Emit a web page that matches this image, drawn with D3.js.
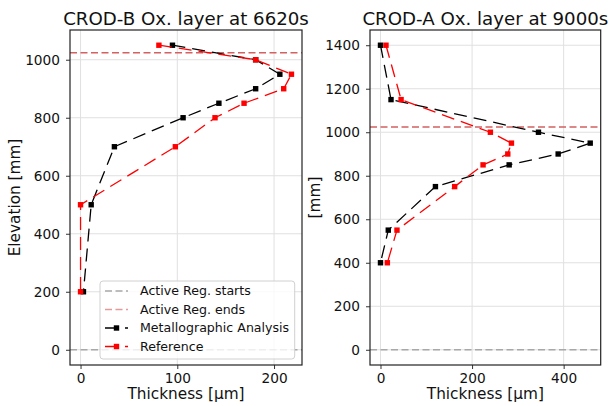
<!DOCTYPE html>
<html>
<head>
<meta charset="utf-8">
<script src="https://cdn.jsdelivr.net/npm/d3@7"></script>
<style>
  body { margin: 0; background: #fff; }
  svg { display: block; font-family: "DejaVu Sans", sans-serif; }
</style>
</head>
<body>
<script>
// elevations [mm] and oxide thickness [um]
const elevB = [1050, 1000, 950, 900, 850, 800, 700, 500, 200];
const metalB = [95, 181, 206, 181, 143, 106, 35, 11, 3];
const refB = [81, 181, 218, 210, 169, 139, 98, 0, 0];

const elevA = [1400, 1150, 1000, 950, 900, 850, 750, 550, 400];
const metalA = [0, 23, 345, 458, 388, 281, 120, 17, 0];
const refA = [12, 45, 240, 286, 278, 224, 162, 36, 15];

const activeStart = 0;
const activeEnd = 1024;

const xTicksB = [0, 100, 200];
const yTicksB = [0, 200, 400, 600, 800, 1000];
const xTicksA = [0, 200, 400];
const yTicksA = [0, 200, 400, 600, 800, 1000, 1200, 1400];

const width = 609, height = 406;
const dataDash = "13,7";
const hDash = "7,3.5";

const svg = d3.select("body").append("svg")
    .attr("width", width)
    .attr("height", height);

// matplotlib-like 5% autoscale padding
function padded(lo, hi) {
  const m = (hi - lo) * 0.05;
  return [lo - m, hi + m];
}

function panel(opt) {
  const x = d3.scaleLinear()
      .domain(padded(0, d3.max(opt.metal.concat(opt.ref))))
      .range([opt.left, opt.right]);
  const y = d3.scaleLinear()
      .domain(padded(Math.min(activeStart, d3.min(opt.elev)), d3.max(opt.elev)))
      .range([365, 30]);

  const g = svg.append("g");

  // grid
  g.append("g").selectAll("line")
    .data(opt.xTicks)
    .join("line")
      .attr("x1", d => x(d)).attr("x2", d => x(d))
      .attr("y1", 30).attr("y2", 365)
      .attr("stroke", "#e0e0e0").attr("stroke-width", 1);
  g.append("g").selectAll("line")
    .data(opt.yTicks)
    .join("line")
      .attr("y1", d => y(d)).attr("y2", d => y(d))
      .attr("x1", opt.left).attr("x2", opt.right)
      .attr("stroke", "#e0e0e0").attr("stroke-width", 1);

  // active region lines
  g.append("line")
      .attr("x1", opt.left).attr("x2", opt.right)
      .attr("y1", y(activeStart)).attr("y2", y(activeStart))
      .attr("stroke", "#a8a8a8").attr("stroke-width", 1.5)
      .attr("stroke-dasharray", hDash);
  g.append("line")
      .attr("x1", opt.left).attr("x2", opt.right)
      .attr("y1", y(activeEnd)).attr("y2", y(activeEnd))
      .attr("stroke", "#d46060").attr("stroke-width", 1.5)
      .attr("stroke-dasharray", hDash);

  const series = [
    {vals: opt.metal, color: "#000"},
    {vals: opt.ref, color: "#ff0000"}
  ];
  const line = d3.line().x(d => x(d[0])).y(d => y(d[1]));
  for (const s of series) {
    const pts = s.vals.map((v, i) => [v, opt.elev[i]]);
    g.append("path")
        .attr("d", line(pts))
        .attr("fill", "none")
        .attr("stroke", s.color)
        .attr("stroke-width", 1.3)
        .attr("stroke-dasharray", dataDash);
    g.append("g").selectAll("rect")
      .data(pts)
      .join("rect")
        .attr("x", d => x(d[0]) - 2.7)
        .attr("y", d => y(d[1]) - 2.7)
        .attr("width", 5.4).attr("height", 5.4)
        .attr("fill", s.color);
  }

  // axes
  const ax = g.append("g")
      .attr("transform", "translate(0,365)")
      .call(d3.axisBottom(x).tickValues(opt.xTicks).tickFormat(d3.format("d"))
        .tickSize(4).tickPadding(4));
  const ay = g.append("g")
      .attr("transform", `translate(${opt.left},0)`)
      .call(d3.axisLeft(y).tickValues(opt.yTicks).tickFormat(d3.format("d"))
        .tickSize(4).tickPadding(6));
  for (const a of [ax, ay]) {
    a.select(".domain").remove();
    a.selectAll(".tick line").attr("stroke", "#333");
    a.selectAll(".tick text")
        .attr("font-family", "DejaVu Sans")
        .attr("font-size", 13.7)
        .attr("fill", "#111");
  }

  g.append("rect")
      .attr("x", opt.left).attr("y", 30)
      .attr("width", opt.right - opt.left).attr("height", 335)
      .attr("fill", "none").attr("stroke", "#222").attr("stroke-width", 1.2);

  g.append("text")
      .attr("x", (opt.left + opt.right) / 2).attr("y", 25)
      .attr("text-anchor", "middle")
      .attr("font-size", 18.2).attr("fill", "#111")
      .text(opt.title);
  g.append("text")
      .attr("x", (opt.left + opt.right) / 2).attr("y", 399)
      .attr("text-anchor", "middle")
      .attr("font-size", 15.3).attr("fill", "#111")
      .text("Thickness [μm]");
  g.append("text")
      .attr("transform", `translate(${opt.ylabelX},197.5) rotate(-90)`)
      .attr("text-anchor", "middle")
      .attr("dy", "0.35em")
      .attr("font-size", 15.3).attr("fill", "#111")
      .text(opt.ylabel);

  return {x, y, g};
}

panel({
  left: 70, right: 302, title: "CROD-B Ox. layer at 6620s",
  elev: elevB, metal: metalB, ref: refB,
  xTicks: xTicksB, yTicks: yTicksB,
  ylabel: "Elevation [mm]", ylabelX: 15
});
panel({
  left: 370, right: 600.7, title: "CROD-A Ox. layer at 9000s",
  elev: elevA, metal: metalA, ref: refA,
  xTicks: xTicksA, yTicks: yTicksA,
  ylabel: "[mm]", ylabelX: 315
});

// legend (left panel)
const legendItems = [
  {label: "Active Reg. starts", color: "#a8a8a8", marker: false, dash: hDash},
  {label: "Active Reg. ends", color: "#e39a9a", marker: false, dash: hDash},
  {label: "Metallographic Analysis", color: "#000", marker: true, dash: dataDash},
  {label: "Reference", color: "#ff0000", marker: true, dash: dataDash}
];
const lg = svg.append("g").attr("transform", "translate(100,281)");
lg.append("rect")
    .attr("width", 194.7).attr("height", 78)
    .attr("rx", 3)
    .attr("fill", "#fff").attr("fill-opacity", 0.8)
    .attr("stroke", "#d0d0d0").attr("stroke-width", 1);
const row = lg.selectAll("g.row")
  .data(legendItems)
  .join("g")
    .attr("class", "row")
    .attr("transform", (d, i) => `translate(0,${10 + i * 18.5})`);
row.append("line")
    .attr("x1", 5).attr("x2", 28)
    .attr("stroke", d => d.color).attr("stroke-width", 1.5)
    .attr("stroke-dasharray", d => d.dash);
row.filter(d => d.marker).append("rect")
    .attr("x", 16.5 - 2.7).attr("y", -2.7)
    .attr("width", 5.4).attr("height", 5.4)
    .attr("fill", d => d.color);
row.append("text")
    .attr("x", 40).attr("dy", "0.35em")
    .attr("font-size", 12.6).attr("fill", "#111")
    .text(d => d.label);
</script>
</body>
</html>
